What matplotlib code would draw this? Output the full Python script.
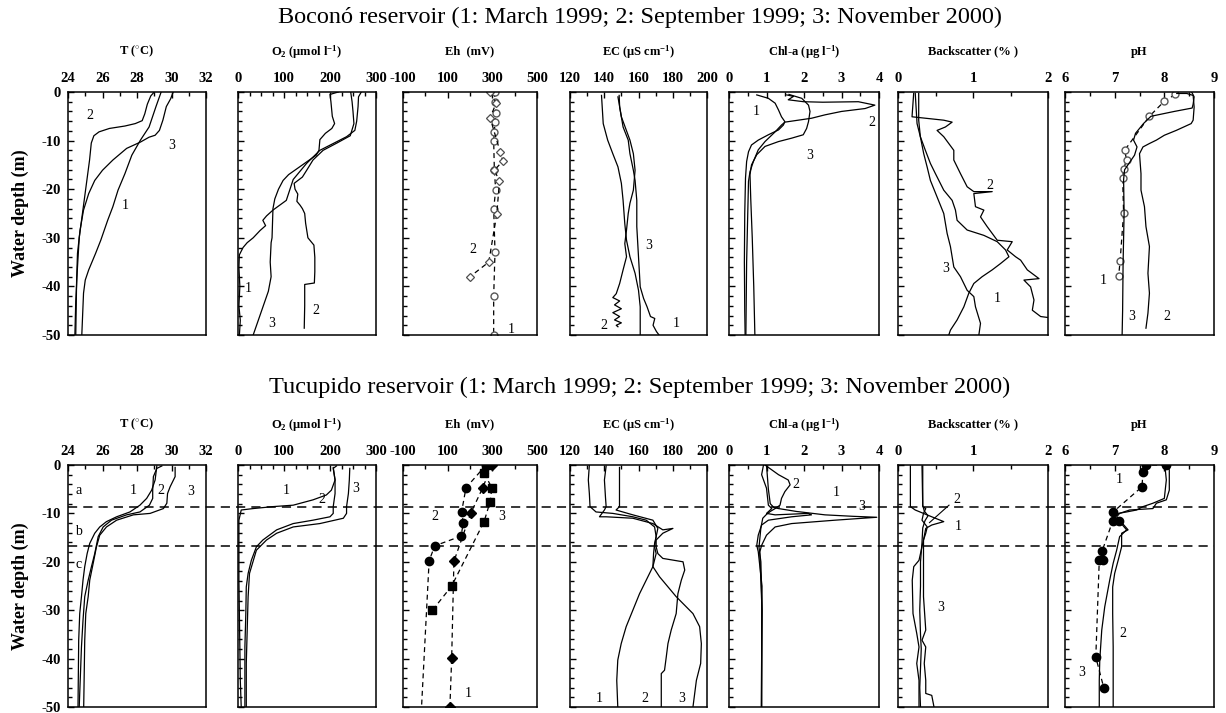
import matplotlib
matplotlib.use("Agg")
import matplotlib.pyplot as plt
from matplotlib.ticker import MultipleLocator, FixedLocator
from matplotlib.lines import Line2D
from matplotlib.transforms import blended_transform_factory

plt.rcParams["font.family"] = ["Liberation Serif", "DejaVu Serif"]
plt.rcParams["mathtext.fontset"] = "custom"
plt.rcParams["mathtext.rm"] = "Liberation Serif"
plt.rcParams["mathtext.bf"] = "Liberation Serif:bold"
plt.rcParams["mathtext.it"] = "Liberation Serif:italic"
plt.rcParams["axes.unicode_minus"] = False

# ---------------- Boconó reservoir ----------------
boc_t1_val = [29.4, 29.1, 28.7, 28.2, 27.7, 27.3, 26.9, 26.6, 26.3, 25.9, 25.6, 25.2, 25.0, 24.9, 24.8]
boc_t1_dep = [0, -3, -7.2, -9.9, -13, -16.8, -20.2, -23.6, -26.4, -30.5, -33.2, -36.6, -38.7, -41.4, -50]
boc_t2_val = [29.0, 28.8, 28.6, 28.45, 28.3, 27.9, 27.3, 26.4, 25.8, 25.5, 25.35, 25.25, 25.1, 24.95, 24.8, 24.65, 24.55, 24.45, 24.4]
boc_t2_dep = [0, -0.8, -2.5, -4.5, -5.9, -6.5, -7.0, -7.5, -8.2, -9.0, -10.5, -14, -18, -22, -26, -30, -36, -43, -50]
boc_t3_val = [30.1, 29.95, 29.7, 29.5, 29.3, 29.05, 28.7, 28.2, 27.4, 26.6, 26.0, 25.55, 25.2, 24.9, 24.7, 24.55, 24.5, 24.45]
boc_t3_dep = [0, -1.4, -3.0, -5.8, -7.9, -8.9, -9.3, -10.3, -11.6, -14, -16.1, -18.2, -20.9, -24.3, -28.4, -33.2, -38.7, -50]

boc_o1_val = [268, 262, 261, 258, 254, 236, 207, 178, 149, 120, 105, 76, 62, 54, 60, 48, 33, 20, 11, 3, 2, 4, 2, 5, 3]
boc_o1_dep = [0, -1, -3, -6, -7.9, -9.2, -10.6, -12, -14.7, -18, -22.3, -24.3, -25.5, -26.4, -27.5, -28.5, -30, -31, -32, -33.5, -36, -40, -44, -47, -50]
boc_o2_val = [245, 248, 250, 252, 244, 215, 185, 163, 150, 140, 122, 124, 130, 128, 135, 140, 145, 147, 152, 165, 167, 167, 166, 145, 145, 144]
boc_o2_dep = [0, -2, -4, -6.5, -9, -10.5, -12, -14, -16, -17.5, -18.8, -20, -21, -22.5, -23.3, -24, -25, -27, -30, -31.5, -34, -37, -39.3, -39.6, -44, -48.6]
boc_o3_val = [218, 200, 202, 205, 210, 204, 190, 178, 176, 170, 140, 110, 98, 88, 80, 76, 75, 74, 72, 70, 72, 66, 55, 44, 33]
boc_o3_dep = [0, -0.5, -2, -5, -6.5, -7.5, -8.5, -9.8, -12, -13, -15, -17, -18.2, -20, -22, -24, -27, -30, -31, -35, -38, -41, -44, -47, -50]

boc_eh1_val = [310, 312, 317, 312, 309, 306, 309, 315, 306, 312, 306, 306]
boc_eh1_dep = [0, -2, -4.3, -6.2, -8.2, -10, -16, -20.2, -24, -32.9, -42, -50]
boc_eh2_val = [290, 317, 290, 335, 347, 309, 332, 320, 284, 200]
boc_eh2_dep = [0, -2.3, -5.3, -12.3, -14.2, -16.1, -18.3, -25.1, -35, -38]

boc_ec1_val = [148.7, 149, 151, 154, 155, 157, 158, 159, 159, 160, 161, 163, 165, 167, 169.5, 168.5, 170.5, 172]
boc_ec1_dep = [-0.7, -3.1, -7.2, -9.9, -12.7, -16.1, -18.2, -22.3, -27.7, -33.9, -40.1, -42.5, -44.2, -46.2, -46.6, -48, -49.3, -50]
boc_ec2_val = [148, 150, 155, 157, 158, 157, 155, 154, 153, 152, 153, 151, 149, 147, 145, 149, 146, 150, 145, 149, 146, 150, 147, 148]
boc_ec2_dep = [-1, -5.1, -9.9, -12.7, -16.1, -20.2, -22.9, -25, -28.4, -31.2, -33.9, -36.6, -39.4, -41.5, -42.3, -43, -43.8, -44.6, -45.4, -46.2, -46.9, -47.5, -48, -48.3]
boc_ec3_val = [138.4, 139.4, 142, 145, 148, 150, 151, 152, 153, 155, 158, 160, 161, 161]
boc_ec3_dep = [-0.7, -6.5, -9.9, -12.7, -15.4, -18.8, -22.3, -27.1, -30.5, -33.9, -37.3, -40.8, -44.2, -50]

boc_chl1_val = [0.74, 1.05, 1.23, 1.32, 1.4, 1.49, 1.45, 1.32, 1.05, 0.78, 0.6, 0.52, 0.47, 0.44, 0.42, 0.41, 0.42, 0.43]
boc_chl1_dep = [-0.6, -1.3, -2.3, -3.7, -5.1, -6.1, -6.8, -7.8, -8.8, -9.9, -10.9, -12.3, -14.3, -17.7, -25, -35, -45, -50]
boc_chl2_val = [1.54, 1.72, 1.58, 1.99, 2.5, 3.45, 3.89, 3.63, 3.0, 2.56, 2.2, 1.49, 1.40, 1.23, 0.96, 0.78, 0.65, 0.56, 0.52, 0.5, 0.47, 0.45]
boc_chl2_dep = [-0.6, -0.9, -1.6, -2.0, -2.1, -2.0, -2.7, -3.4, -4.0, -4.7, -5.4, -6.2, -6.8, -8.2, -10.2, -11.9, -14.3, -16.4, -18.4, -25, -35, -50]
boc_chl3_val = [1.6, 1.94, 2.12, 2.16, 2.12, 2.07, 1.98, 1.67, 1.32, 0.96, 0.74, 0.6, 0.56, 0.58, 0.62, 0.66, 0.69]
boc_chl3_dep = [-0.5, -1.3, -2.7, -4.0, -6.1, -7.5, -8.8, -9.5, -10.2, -11.2, -12.9, -15, -17, -22, -30, -40, -50]

boc_bs1_val = [0.23, 0.254, 0.298, 0.365, 0.432, 0.499, 0.61, 0.722, 0.766, 0.788, 0.922, 1.145, 1.323, 1.434, 1.479, 1.367, 1.256, 1.122, 1.011, 0.944, 0.878, 0.788, 0.699, 0.677]
boc_bs1_dep = [-0.3, -6.5, -9.2, -12, -14.7, -16.8, -20.2, -22.3, -24.3, -26.4, -28.4, -29.5, -30.8, -32.5, -33.9, -35.3, -36.6, -38, -39.4, -41.4, -44.2, -46.9, -49, -50]
boc_bs2_val = [0.209, 0.187, 0.61, 0.722, 0.632, 0.521, 0.61, 0.744, 0.744, 0.833, 0.922, 1.011, 1.256, 1.011, 1.033, 1.145, 1.1, 1.189, 1.256, 1.323, 1.523, 1.456, 1.568, 1.635, 1.724, 1.88, 1.679, 1.768, 1.813, 1.791, 1.902, 2.0]
boc_bs2_dep = [-0.3, -5.1, -5.8, -6.2, -7.2, -7.9, -9.2, -12, -14, -16.8, -19.5, -20.5, -20.5, -20.9, -23.6, -24.3, -25.7, -27.7, -29.1, -30.5, -30.8, -32.5, -33.9, -34.6, -36.6, -38.4, -38.7, -40.1, -42.8, -44.9, -46.2, -46.4]
boc_bs3_val = [0.276, 0.276, 0.298, 0.343, 0.388, 0.432, 0.521, 0.61, 0.655, 0.699, 0.744, 0.833, 0.922, 1.011, 1.033, 1.1, 1.078]
boc_bs3_dep = [-0.3, -5.8, -9.2, -12.7, -15.4, -18.2, -21.6, -25, -29.1, -31.8, -36, -38, -40.8, -42.1, -44.2, -47.6, -50]

boc_ph1_val = [8.22, 8.0, 7.70, 7.20, 7.24, 7.18, 7.16, 7.18, 7.11, 7.08]
boc_ph1_dep = [-0.5, -1.9, -5.0, -12.0, -13.9, -15.9, -17.7, -24.9, -34.7, -37.9]
boc_ph2_val = [8.25, 8.45, 8.58, 8.6, 8.58, 8.54, 8.24, 8.0, 7.84, 7.7, 7.57, 7.5, 7.53, 7.53, 7.6, 7.63, 7.7, 7.67, 7.7, 7.67, 7.63]
boc_ph2_dep = [-0.3, -0.3, -0.7, -3.1, -5.8, -6.5, -7.9, -8.9, -9.9, -10.6, -11.3, -12.7, -16.8, -20.2, -23.6, -27.7, -31.8, -37.3, -41.4, -45.5, -48.6]
boc_ph3_val = [8.55, 8.6, 8.58, 8.56, 8.2, 7.73, 7.58, 7.42, 7.38, 7.45, 7.4, 7.3, 7.2, 7.18, 7.19, 7.17, 7.16, 7.15]
boc_ph3_dep = [0, -1, -2.5, -3.3, -4.0, -5.0, -6.5, -8.5, -9.9, -11.3, -13, -14.5, -16, -18, -25, -35, -45, -50]

# ---------------- Tucupido reservoir ----------------
tuc_t1_val = [29.15, 29.05, 28.85, 28.56, 28.17, 27.59, 26.82, 26.23, 25.84, 25.55, 25.26, 25.11, 24.97, 24.87, 24.78, 24.68, 24.62, 24.58]
tuc_t1_dep = [-0.2, -3.1, -5.2, -6.9, -8.3, -9.7, -10.7, -11.7, -12.8, -14.1, -16.2, -18.3, -21, -23.8, -27.2, -30.7, -36.2, -50]
tuc_t2_val = [29.44, 29.15, 28.95, 28.91, 28.91, 28.72, 28.17, 27.4, 26.52, 26.04, 25.75, 25.55, 25.36, 25.17, 24.97, 24.87, 24.78, 24.65]
tuc_t2_dep = [-0.2, -0.7, -2.4, -5.2, -6.9, -8.3, -9.7, -10.3, -11.4, -12.8, -14.8, -18.3, -21, -23.8, -27.2, -32.1, -37.6, -50]
tuc_t3_val = [30.21, 30.21, 29.92, 29.77, 29.73, 29.53, 28.76, 27.79, 26.82, 26.23, 25.84, 25.65, 25.46, 25.26, 25.17, 25.03, 24.97, 24.91]
tuc_t3_dep = [-0.5, -2.4, -4.5, -5.9, -7.9, -9.0, -10, -10.3, -11.4, -12.8, -14.5, -16.9, -20.3, -23.8, -27.2, -30.7, -36.2, -50]

tuc_o1_val = [214, 207, 211, 203, 192, 163, 120, 76, 33, 7, 2, 2, 4, 5, 7]
tuc_o1_dep = [-0.2, -0.7, -3.1, -5.2, -6.2, -7.2, -8.3, -8.6, -9.0, -9.3, -11.4, -23.8, -37.6, -44.5, -50]
tuc_o2_val = [207, 211, 211, 207, 207, 200, 163, 120, 84, 54, 40, 29, 22, 18, 17, 15, 15]
tuc_o2_dep = [-0.5, -3.1, -5.9, -8.6, -10, -10.7, -11.4, -12.1, -13.4, -15.5, -16.9, -19.7, -22.4, -25.2, -30.7, -37.6, -50]
tuc_o3_val = [243, 242, 240, 236, 236, 229, 178, 120, 84, 62, 40, 25, 22, 20, 18, 18]
tuc_o3_dep = [-0.7, -3.1, -5.9, -8.6, -10, -11, -12.1, -12.8, -14.1, -15.5, -17.6, -22.4, -27.2, -34.1, -41, -50]

tuc_eh1_val = [298, 257, 203, 128, 118, 110]
tuc_eh1_dep = [0, -4.7, -10, -19.9, -39.8, -50]
tuc_eh2_val = [272, 182, 162, 170, 160, 42, 17, -17]
tuc_eh2_dep = [0, -4.7, -9.8, -11.9, -14.7, -16.7, -19.8, -50]
tuc_eh3_val = [272, 263, 298, 290, 263, 118, 32]
tuc_eh3_dep = [0, -1.7, -4.7, -7.6, -11.7, -25, -30]

tuc_ec1_val = [131.3, 130.7, 131.3, 131.7, 135.2, 145, 156.7, 164.5, 169.4, 170.3, 169.4, 168.8, 168.4, 164.5, 160.6, 156.7, 152.8, 149.9, 147.9, 147.3, 147.9]
tuc_ec1_dep = [0, -3.1, -5.9, -8.6, -9.7, -10, -10.7, -11.4, -12.8, -14.8, -16.2, -18.3, -21, -23.8, -26.6, -30, -33.4, -36.9, -40.3, -44.5, -50]
tuc_ec2_val = [141.1, 140.1, 140.7, 141.1, 140.1, 137.2, 141.1, 156.7, 168.4, 174.2, 180.1, 174.2, 170.3, 170.3, 171.3, 174.2, 186, 187, 185, 183, 182, 179.1, 177.2, 176.2, 175.2, 173.3, 173.3]
tuc_ec2_dep = [-0.2, -3.1, -6.6, -8.6, -9.3, -10.7, -10.7, -11, -12.1, -13.4, -13.1, -14.1, -15.5, -16.9, -18.3, -19.3, -20, -21.7, -23.8, -26.6, -30.7, -34.1, -36.9, -39.7, -42.4, -43.1, -50]
tuc_ec3_val = [148.9, 148.9, 146.9, 156.7, 168.4, 171.3, 170.3, 169.4, 170.3, 168.4, 172.3, 182, 191.8, 195.7, 196.7, 196.3, 193.8, 191.8]
tuc_ec3_dep = [-0.5, -8.6, -9.3, -10.3, -11.4, -13.1, -14.8, -16.9, -18.3, -21, -23.1, -27.2, -30.7, -33.4, -36.9, -41, -44.5, -50]

tuc_chl1_val = [0.92, 0.87, 1.0, 1.05, 1.14, 1.0, 1.23, 2.12, 2.2, 1.67, 1.05, 0.87, 0.78, 0.74, 0.78, 0.88, 0.87, 0.87]
tuc_chl1_dep = [0, -2, -4.8, -8.3, -9.0, -10.0, -10.3, -10.0, -10.3, -10.7, -11.4, -12.4, -14.5, -16.6, -17.9, -25, -35, -50]
tuc_chl2_val = [0.96, 1.14, 1.32, 1.58, 1.63, 1.49, 1.4, 1.36, 1.23, 1.1, 1.0, 0.9, 0.85, 0.8, 0.85, 0.88, 0.86]
tuc_chl2_dep = [0, -1, -2, -3.1, -4.1, -5.5, -6.9, -8.3, -9.0, -9.6, -10.2, -11, -13, -17, -20, -30, -50]
tuc_chl3_val = [1.0, 1.02, 1.05, 1.1, 1.2, 1.32, 1.8, 2.56, 3.3, 3.94, 2.83, 1.67, 1.23, 1.0, 0.87, 0.82, 0.88, 0.87]
tuc_chl3_dep = [0, -2, -5, -8, -8.8, -9.0, -9.6, -10.3, -10.6, -10.8, -11.4, -12.1, -12.8, -14.5, -16.6, -18, -30, -50]

tuc_bs1_val = [0.32, 0.33, 0.37, 0.34, 0.32, 0.39, 0.37, 0.34, 0.34, 0.34, 0.37, 0.32, 0.37, 0.35, 0.37, 0.37, 0.45, 0.48]
tuc_bs1_dep = [-0.2, -8.6, -9, -10, -11.4, -12.8, -14.1, -15.5, -20.3, -27.2, -34.1, -36.2, -37.6, -41, -44.5, -47.2, -47.6, -50]
tuc_bs2_val = [0.165, 0.165, 0.23, 0.45, 0.61, 0.45, 0.37, 0.34, 0.28, 0.21, 0.19, 0.2, 0.25, 0.28, 0.25, 0.28, 0.28]
tuc_bs2_dep = [-0.2, -8.6, -9.3, -10.7, -11.7, -12.4, -13.1, -15.5, -19.7, -21, -23.8, -30.7, -34.8, -37.6, -41, -44.5, -50]
tuc_bs3_val = [0.33, 0.33, 0.35, 0.40, 0.36, 0.33, 0.32, 0.30, 0.30, 0.29, 0.30, 0.31, 0.30, 0.29, 0.30]
tuc_bs3_dep = [-0.2, -8.3, -9.5, -10.5, -11.5, -13, -16, -20, -25, -30, -35, -38, -42, -46, -50]

tuc_ph1_val = [8.03, 7.64, 7.57, 7.55, 6.96, 7.09, 6.96, 6.75, 6.77, 6.69, 6.62, 6.78]
tuc_ph1_dep = [0, 0, -1.5, -4.5, -9.8, -11.6, -11.6, -17.7, -19.7, -19.7, -39.7, -46]
tuc_ph2_val = [8.04, 8.1, 8.1, 8.04, 7.84, 7.77, 7.3, 7.1, 7.04, 7.27, 7.14, 7.14, 7.07, 7.0, 6.96, 6.96, 6.97, 6.97, 6.97]
tuc_ph2_dep = [-0.2, -1, -5.2, -7.2, -7.9, -9.0, -9.3, -10, -10.7, -13.4, -14.1, -16.9, -19.7, -22.4, -25.2, -30.7, -37.6, -44.5, -50]
tuc_ph3_val = [8.01, 8.04, 8.0, 7.77, 7.57, 7.44, 7.24, 7.07, 7.0, 7.1, 7.24, 7.1, 7.04, 6.97, 6.9, 6.8, 6.74, 6.7, 6.69, 6.69]
tuc_ph3_dep = [0, -3.1, -6.9, -7.9, -8.6, -9.3, -9.7, -10, -10.7, -11.7, -13.4, -14.8, -17.6, -20.3, -23.8, -29.3, -34.1, -40.3, -44.5, -50]

# Layer boundaries drawn across the Tucupido row
tuc_layers = [-8.6, -16.8]

titles = [r"T ($^{\circ}$C)", r"O$_{\mathbf{2}}$ ($\mathbf{\mu}$mol l$^{\mathbf{-1}}$)", "Eh  (mV)",
          r"EC ($\mathbf{\mu}$S cm$^{\mathbf{-1}}$)", r"Chl-a ($\mathbf{\mu}$g l$^{\mathbf{-1}}$)",
          "Backscatter (% )", "pH"]
xlims = [(24, 32), (0, 300), (-100, 500), (120, 200), (0, 4), (0, 2), (6, 9)]
majors = [[24, 26, 28, 30, 32], [0, 100, 200, 300], [-100, 100, 300, 500],
          [120, 140, 160, 180, 200], [0, 1, 2, 3, 4], [0, 1, 2], [6, 7, 8, 9]]
minors = [1, 25, 100, 10, 0.5, 0.5, 0.5]

W, H = 1226, 713
fig = plt.figure(figsize=(W / 100, H / 100), dpi=100)

cols_px = [(68, 206), (238, 376), (403, 537), (570, 707), (729, 879), (898, 1048), (1065, 1214)]
rows_px = [(92, 335), (465, 707)]


def make_row(r):
    top, bot = rows_px[r]
    axes = []
    for c, (x0, x1) in enumerate(cols_px):
        ax = fig.add_axes([x0 / W, 1 - bot / H, (x1 - x0) / W, (bot - top) / H])
        ax.set_xlim(*xlims[c])
        ax.set_ylim(-50, 0)
        ax.xaxis.set_major_locator(FixedLocator(majors[c]))
        ax.xaxis.set_minor_locator(MultipleLocator(minors[c]))
        ax.yaxis.set_major_locator(MultipleLocator(10))
        ax.yaxis.set_minor_locator(MultipleLocator(2))
        ax.tick_params(axis="x", which="both", direction="in", top=True, bottom=False,
                       labeltop=True, labelbottom=False)
        ax.tick_params(axis="y", which="both", direction="in", left=True, right=False,
                       labelleft=(c == 0))
        ax.tick_params(which="major", length=4.5, width=1, pad=5, labelsize=10.5)
        ax.tick_params(which="minor", length=3, width=1)
        for lab in ax.get_xticklabels() + ax.get_yticklabels():
            lab.set_fontweight("bold")
        for sp in ax.spines.values():
            sp.set_linewidth(1.1)
        ax.annotate(titles[c], xy=(0.5, 1), xycoords="axes fraction", xytext=(0, 29),
                    textcoords="offset points", ha="center", va="center",
                    fontsize=9, fontweight="bold")
        axes.append(ax)
    return axes


top_axes = make_row(0)
bot_axes = make_row(1)

LW = 0.9


def prof(ax, val, dep, **kw):
    kw.setdefault("color", "black")
    kw.setdefault("lw", LW)
    ax.plot(val, dep, **kw)


def lab(ax, x, y, s, size=10):
    ax.text(x, y, s, ha="center", va="center", fontsize=size)


dash = (0, (4, 3))

# ---- Boconó row ----
a = top_axes
for v, d in [(boc_t1_val, boc_t1_dep), (boc_t2_val, boc_t2_dep), (boc_t3_val, boc_t3_dep)]:
    prof(a[0], v, d)
lab(a[0], 25.25, -4.8, "2"); lab(a[0], 30.0, -11, "3"); lab(a[0], 27.3, -23.3, "1")

for v, d in [(boc_o1_val, boc_o1_dep), (boc_o2_val, boc_o2_dep), (boc_o3_val, boc_o3_dep)]:
    prof(a[1], v, d)
lab(a[1], 22, -40.4, "1"); lab(a[1], 169, -44.9, "2"); lab(a[1], 73, -47.6, "3")

prof(a[2], boc_eh1_val, boc_eh1_dep, ls=dash, marker="o", ms=5, mfc="white", mec="0.35", mew=1)
prof(a[2], boc_eh2_val, boc_eh2_dep, ls=dash, marker="D", ms=4.5, mfc="white", mec="0.3", mew=0.9)
lab(a[2], 212, -32.4, "2"); lab(a[2], 385, -48.8, "1")

for v, d in [(boc_ec1_val, boc_ec1_dep), (boc_ec2_val, boc_ec2_dep), (boc_ec3_val, boc_ec3_dep)]:
    prof(a[3], v, d)
lab(a[3], 166.2, -31.5, "3"); lab(a[3], 139.8, -48, "2"); lab(a[3], 182, -47.6, "1")

for v, d in [(boc_chl1_val, boc_chl1_dep), (boc_chl2_val, boc_chl2_dep), (boc_chl3_val, boc_chl3_dep)]:
    prof(a[4], v, d)
lab(a[4], 0.72, -4.1, "1"); lab(a[4], 2.16, -13, "3"); lab(a[4], 3.82, -6.2, "2")

for v, d in [(boc_bs1_val, boc_bs1_dep), (boc_bs2_val, boc_bs2_dep), (boc_bs3_val, boc_bs3_dep)]:
    prof(a[5], v, d)
lab(a[5], 1.22, -19.2, "2"); lab(a[5], 0.63, -36.3, "3"); lab(a[5], 1.32, -42.5, "1")

prof(a[6], boc_ph1_val, boc_ph1_dep, ls=dash, marker="o", ms=5, mfc="white", mec="0.35", mew=1)
prof(a[6], boc_ph2_val, boc_ph2_dep)
prof(a[6], boc_ph3_val, boc_ph3_dep)
lab(a[6], 6.77, -38.7, "1"); lab(a[6], 7.35, -46.1, "3"); lab(a[6], 8.05, -46.1, "2")

# ---- Tucupido row ----
b = bot_axes
for v, d in [(tuc_t1_val, tuc_t1_dep), (tuc_t2_val, tuc_t2_dep), (tuc_t3_val, tuc_t3_dep)]:
    prof(b[0], v, d)
lab(b[0], 24.6, -5.2, "a"); lab(b[0], 24.6, -13.7, "b"); lab(b[0], 24.6, -20.6, "c")
lab(b[0], 27.8, -5.2, "1"); lab(b[0], 29.4, -5.2, "2"); lab(b[0], 31.1, -5.5, "3")

for v, d in [(tuc_o1_val, tuc_o1_dep), (tuc_o2_val, tuc_o2_dep), (tuc_o3_val, tuc_o3_dep)]:
    prof(b[1], v, d)
lab(b[1], 105, -5.2, "1"); lab(b[1], 182, -7.2, "2"); lab(b[1], 256, -4.8, "3")

prof(b[2], tuc_eh1_val, tuc_eh1_dep, ls=dash, marker="D", ms=5, mfc="black", mec="black")
prof(b[2], tuc_eh2_val, tuc_eh2_dep, ls=dash, marker="o", ms=6, mfc="black", mec="black",
     markevery=list(range(len(tuc_eh2_val) - 1)))
prof(b[2], tuc_eh3_val, tuc_eh3_dep, ls=dash, marker="s", ms=6, mfc="black", mec="black")
lab(b[2], 42, -10.7, "2"); lab(b[2], 342, -10.7, "3"); lab(b[2], 192, -47.2, "1")

for v, d in [(tuc_ec1_val, tuc_ec1_dep), (tuc_ec2_val, tuc_ec2_dep), (tuc_ec3_val, tuc_ec3_dep)]:
    prof(b[3], v, d)
lab(b[3], 136.8, -48.3, "1"); lab(b[3], 164, -48.3, "2"); lab(b[3], 185, -48.3, "3")

for v, d in [(tuc_chl1_val, tuc_chl1_dep), (tuc_chl2_val, tuc_chl2_dep), (tuc_chl3_val, tuc_chl3_dep)]:
    prof(b[4], v, d)
lab(b[4], 1.78, -4.1, "2"); lab(b[4], 2.87, -5.7, "1"); lab(b[4], 3.54, -8.5, "3")

for v, d in [(tuc_bs1_val, tuc_bs1_dep), (tuc_bs2_val, tuc_bs2_dep), (tuc_bs3_val, tuc_bs3_dep)]:
    prof(b[5], v, d)
b[5].plot([0.68, 0.42], [-8.3, -11.9], color="black", lw=0.8)
lab(b[5], 0.79, -7.1, "2"); lab(b[5], 0.80, -12.8, "1"); lab(b[5], 0.57, -29.5, "3")

prof(b[6], tuc_ph1_val, tuc_ph1_dep, ls=dash, marker="o", ms=6, mfc="black", mec="black")
prof(b[6], tuc_ph2_val, tuc_ph2_dep)
prof(b[6], tuc_ph3_val, tuc_ph3_dep)
lab(b[6], 7.09, -2.9, "1"); lab(b[6], 7.17, -34.8, "2"); lab(b[6], 6.33, -42.8, "3")

# Layer boundaries across the whole Tucupido row
tr = blended_transform_factory(fig.transFigure, b[0].transData)
for yv in tuc_layers:
    fig.add_artist(Line2D([cols_px[0][0] / W, cols_px[-1][1] / W], [yv, yv], transform=tr,
                          color="black", lw=1.1, ls=(0, (6, 4))))

# Row headings and axis labels
fig.text(640 / W, 1 - 17 / H, "Boconó reservoir (1: March 1999; 2: September 1999; 3: November 2000)",
         ha="center", va="center", fontsize=17.5)
fig.text(640 / W, 1 - 387 / H, "Tucupido reservoir (1: March 1999; 2: September 1999; 3: November 2000)",
         ha="center", va="center", fontsize=17.5)
for (top, bot) in rows_px:
    fig.text(20 / W, 1 - (top + bot) / 2 / H, "Water depth (m)", rotation=90,
             ha="center", va="center", fontsize=13, fontweight="bold")

fig.savefig("out.png", dpi=100)
